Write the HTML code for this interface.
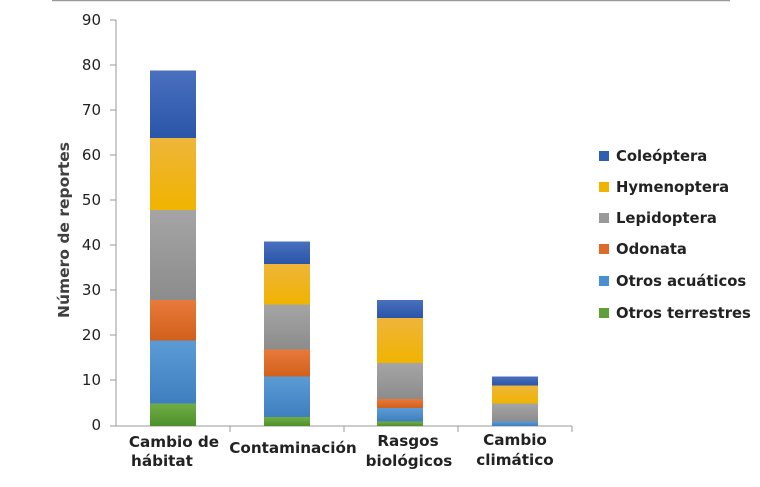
<!DOCTYPE html><html><head><style>body{margin:0;background:#fff}svg{display:block}</style></head><body>
<svg width="760" height="487" xmlns="http://www.w3.org/2000/svg" font-family="DejaVu Sans, Liberation Sans, sans-serif">
<defs>
<linearGradient id="b" x1="0" x2="0" y1="0" y2="1"><stop offset="0" stop-color="#4a70bf"/><stop offset="1" stop-color="#2a55a8"/></linearGradient>
<linearGradient id="y" x1="0" x2="0" y1="0" y2="1"><stop offset="0" stop-color="#eeb53a"/><stop offset="1" stop-color="#f0b400"/></linearGradient>
<linearGradient id="g" x1="0" x2="0" y1="0" y2="1"><stop offset="0" stop-color="#a5a5a5"/><stop offset="1" stop-color="#8c8c8c"/></linearGradient>
<linearGradient id="o" x1="0" x2="0" y1="0" y2="1"><stop offset="0" stop-color="#e87a3a"/><stop offset="1" stop-color="#d2601c"/></linearGradient>
<linearGradient id="a" x1="0" x2="0" y1="0" y2="1"><stop offset="0" stop-color="#5b9bd5"/><stop offset="1" stop-color="#3f7fc0"/></linearGradient>
<linearGradient id="t" x1="0" x2="0" y1="0" y2="1"><stop offset="0" stop-color="#70ad47"/><stop offset="1" stop-color="#4f8f2a"/></linearGradient>
</defs>
<line x1="52" y1="0.5" x2="730" y2="0.5" stroke="#999" stroke-width="1.5"/>
<g stroke="#999" stroke-width="1">
<line x1="116" y1="20" x2="116" y2="426"/>
<line x1="110" y1="426" x2="572" y2="426"/>
<line x1="110" y1="20" x2="116" y2="20"/><line x1="110" y1="65" x2="116" y2="65"/><line x1="110" y1="110" x2="116" y2="110"/><line x1="110" y1="155" x2="116" y2="155"/><line x1="110" y1="200" x2="116" y2="200"/><line x1="110" y1="245" x2="116" y2="245"/><line x1="110" y1="290" x2="116" y2="290"/><line x1="110" y1="335" x2="116" y2="335"/><line x1="110" y1="380" x2="116" y2="380"/>
<line x1="230" y1="426" x2="230" y2="432"/><line x1="344" y1="426" x2="344" y2="432"/><line x1="458" y1="426" x2="458" y2="432"/><line x1="572" y1="426" x2="572" y2="432"/>
</g>
<g font-size="15" fill="#222" text-anchor="end">
<text x="101" y="25">90</text><text x="101" y="70">80</text><text x="101" y="115">70</text><text x="101" y="160">60</text><text x="101" y="205">50</text><text x="101" y="250">40</text><text x="101" y="295">30</text><text x="101" y="340">20</text><text x="101" y="385">10</text><text x="101" y="430">0</text>
</g>
<text transform="translate(69,230) rotate(-90)" text-anchor="middle" font-size="15.5" font-weight="bold" fill="#404040">Número de reportes</text>
<g>
<rect x="150" y="403.5" width="46" height="22.5" fill="url(#t)"/>
<rect x="150" y="340.5" width="46" height="63" fill="url(#a)"/>
<rect x="150" y="300" width="46" height="40.5" fill="url(#o)"/>
<rect x="150" y="210" width="46" height="90" fill="url(#g)"/>
<rect x="150" y="138" width="46" height="72" fill="url(#y)"/>
<rect x="150" y="70.5" width="46" height="67.5" fill="url(#b)"/>

<rect x="264" y="417" width="46" height="9" fill="url(#t)"/>
<rect x="264" y="376.5" width="46" height="40.5" fill="url(#a)"/>
<rect x="264" y="349.5" width="46" height="27" fill="url(#o)"/>
<rect x="264" y="304.5" width="46" height="45" fill="url(#g)"/>
<rect x="264" y="264" width="46" height="40.5" fill="url(#y)"/>
<rect x="264" y="241.5" width="46" height="22.5" fill="url(#b)"/>

<rect x="377" y="421.5" width="46" height="4.5" fill="url(#t)"/>
<rect x="377" y="408" width="46" height="13.5" fill="url(#a)"/>
<rect x="377" y="399" width="46" height="9" fill="url(#o)"/>
<rect x="377" y="363" width="46" height="36" fill="url(#g)"/>
<rect x="377" y="318" width="46" height="45" fill="url(#y)"/>
<rect x="377" y="300" width="46" height="18" fill="url(#b)"/>

<rect x="492" y="421.5" width="46" height="4.5" fill="url(#a)"/>
<rect x="492" y="403.5" width="46" height="18" fill="url(#g)"/>
<rect x="492" y="385.5" width="46" height="18" fill="url(#y)"/>
<rect x="492" y="376.5" width="46" height="9" fill="url(#b)"/>
</g>
<g font-size="15.2" font-weight="bold" fill="#222" text-anchor="middle">
<text x="174" y="447">Cambio de</text><text x="162" y="466">hábitat</text>
<text x="293" y="453">Contaminación</text>
<text x="408" y="446">Rasgos</text><text x="409" y="466">biológicos</text>
<text x="515" y="445">Cambio</text><text x="515" y="465">climático</text>
</g>
<g font-size="14.8" font-weight="bold" fill="#222">
<rect x="599" y="151" width="10" height="10" fill="#2f5fb3"/><text x="616" y="161">Coleóptera</text>
<rect x="599" y="182" width="10" height="10" fill="#f0b400"/><text x="616" y="192">Hymenoptera</text>
<rect x="599" y="213" width="10" height="10" fill="#999"/><text x="616" y="223">Lepidoptera</text>
<rect x="599" y="244" width="10" height="10" fill="#dd6a28"/><text x="616" y="254">Odonata</text>
<rect x="599" y="276" width="10" height="10" fill="#4a8fd0"/><text x="616" y="286">Otros acuáticos</text>
<rect x="599" y="308" width="10" height="10" fill="#5f9e38"/><text x="616" y="318">Otros terrestres</text>
</g>
</svg></body></html>
